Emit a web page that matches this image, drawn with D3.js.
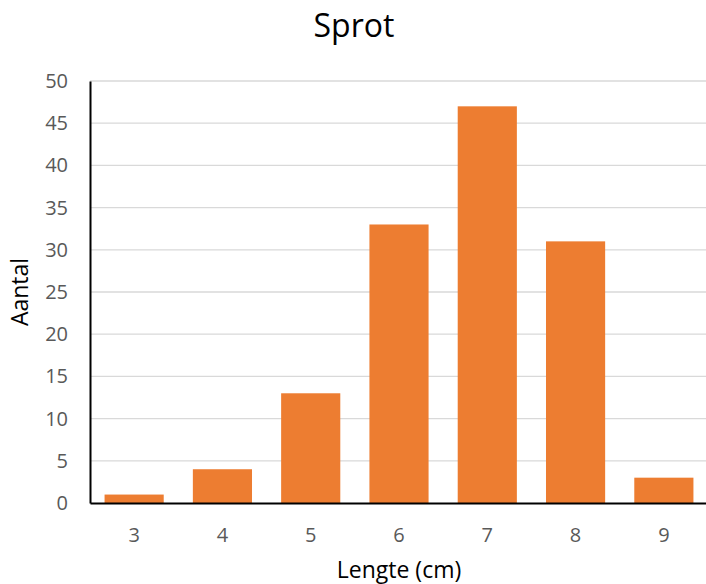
<!DOCTYPE html>
<html>
<head>
<meta charset="utf-8">
<script src="https://cdn.jsdelivr.net/npm/d3@7"></script>
<style>
  body { margin: 0; background: #fff; }
  text { font-family: "Open Sans", "Liberation Sans", sans-serif; }
</style>
</head>
<body>
<svg id="chart" width="706" height="584"></svg>
<script>
// Donnees
const lengths = ["3", "4", "5", "6", "7", "8", "9"];
const counts = [1, 4, 13, 33, 47, 31, 3];
const yTicks = [0, 5, 10, 15, 20, 25, 30, 35, 40, 45, 50];

const svg = d3.select("#chart");
const margin = { left: 90, right: 0, top: 81, bottom: 81 };
const width = 706 - margin.left - margin.right + 2;
const height = 584 - margin.top - margin.bottom;

const x = d3.scaleBand()
    .domain(lengths)
    .range([margin.left, margin.left + width])
    .paddingInner(0.33)
    .paddingOuter(0.165);

const y = d3.scaleLinear()
    .domain([0, 50])
    .range([margin.top + height, margin.top]);

// Lignes de grille horizontales
svg.append("g")
    .selectAll("line")
    .data(yTicks.filter(function(t) { return t > 0; }))
    .enter()
    .append("line")
    .attr("x1", margin.left)
    .attr("x2", margin.left + width)
    .attr("y1", function(d) { return y(d); })
    .attr("y2", function(d) { return y(d); })
    .attr("stroke", "#d9d9d9")
    .attr("stroke-width", 1.3);

// Barres
svg.append("g")
    .selectAll("rect")
    .data(counts)
    .enter()
    .append("rect")
    .attr("x", function(d, i) { return x(lengths[i]); })
    .attr("y", function(d) { return y(d); })
    .attr("width", x.bandwidth())
    .attr("height", function(d) { return y(0) - y(d); })
    .attr("fill", "#ed7d31");

// Axe Y
const yAxis = svg.append("g")
    .attr("transform", "translate(" + margin.left + ",0)")
    .call(d3.axisLeft(y).tickValues(yTicks).tickSize(0).tickPadding(22));
yAxis.select(".domain").attr("stroke", "#000").attr("stroke-width", 2);
yAxis.selectAll("text").attr("fill", "#595959").style("font-size", "20px");

// Axe X
const xAxis = svg.append("g")
    .attr("transform", "translate(0," + y(0) + ")")
    .call(d3.axisBottom(x).tickSize(0).tickPadding(25));
xAxis.select(".domain").attr("stroke", "#000").attr("stroke-width", 2);
xAxis.selectAll("text").attr("fill", "#595959").style("font-size", "20px");

// Titre et libelles
svg.append("text")
    .attr("x", 354)
    .attr("y", 37)
    .attr("text-anchor", "middle")
    .attr("fill", "#000")
    .style("font-size", "32px")
    .text("Sprot");

svg.append("text")
    .attr("x", 399)
    .attr("y", 578)
    .attr("text-anchor", "middle")
    .attr("fill", "#000")
    .style("font-size", "23px")
    .text("Lengte (cm)");

svg.append("text")
    .attr("transform", "translate(28," + y(25) + ") rotate(-90)")
    .attr("text-anchor", "middle")
    .attr("fill", "#000")
    .style("font-size", "23px")
    .text("Aantal");
</script>
</body>
</html>
